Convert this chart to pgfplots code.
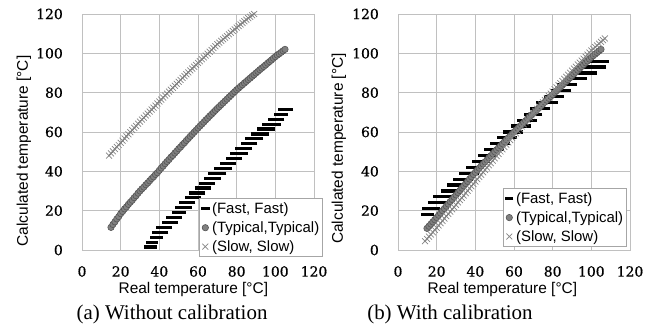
\documentclass[border=0pt]{standalone}
\usepackage{pgfplots}
\usepackage{pgfplotstable}
\pgfplotsset{compat=1.18}
\usepackage{fontspec}
\setmainfont{Liberation Serif}
\newfontfamily\arialf{Liberation Sans}
\newfontfamily\tickf[FakeBold=0.6]{DejaVu Serif}
\definecolor{gridc}{HTML}{C0C0C0}
\definecolor{typfill}{HTML}{808080}
\definecolor{typedge}{HTML}{555555}
\definecolor{slowc}{HTML}{858585}

\pgfplotstableread{
x y
14 48.0
15 49.1
16 50.2
17 51.3
18 52.4
19 53.4
20 54.5
21 55.6
22 56.7
23 57.8
24 58.8
25 59.9
26 61.0
27 62.1
28 63.1
29 64.2
30 65.3
31 66.3
32 67.3
33 68.4
34 69.4
35 70.4
36 71.4
37 72.4
38 73.4
39 74.5
40 75.5
41 76.5
42 77.5
43 78.5
44 79.5
45 80.5
46 81.5
47 82.5
48 83.5
49 84.5
50 85.5
51 86.5
52 87.5
53 88.4
54 89.4
55 90.3
56 91.3
57 92.2
58 93.2
59 94.1
60 95.1
61 96.0
62 97.0
63 97.9
64 98.9
65 99.8
66 100.8
67 101.7
68 102.7
69 103.6
70 104.6
71 105.4
72 106.3
73 107.1
74 108.0
75 108.8
76 109.7
77 110.5
78 111.4
79 112.2
80 113.1
81 113.9
82 114.7
83 115.5
84 116.3
85 117.1
86 117.9
87 118.6
88 119.3
89 120.0
}\slowA

\pgfplotstableread{
x y
14 4.5
15 5.6
16 6.8
17 7.9
18 9.0
19 10.2
20 11.3
21 12.5
22 13.6
23 14.8
24 16.0
25 17.2
26 18.3
27 19.5
28 20.7
29 21.8
30 23.0
31 24.2
32 25.4
33 26.5
34 27.7
35 28.9
36 30.1
37 31.3
38 32.4
39 33.6
40 34.8
41 36.0
42 37.2
43 38.3
44 39.5
45 40.7
46 41.9
47 43.1
48 44.2
49 45.4
50 46.6
51 47.8
52 48.9
53 50.1
54 51.2
55 52.4
56 53.6
57 54.7
58 55.9
59 57.0
60 58.2
61 59.3
62 60.5
63 61.6
64 62.8
65 63.9
66 65.0
67 66.2
68 67.3
69 68.5
70 69.6
71 70.7
72 71.8
73 72.9
74 74.0
75 75.1
76 76.2
77 77.3
78 78.4
79 79.5
80 80.6
81 81.7
82 82.7
83 83.8
84 84.8
85 85.9
86 87.0
87 88.0
88 89.1
89 90.1
90 91.2
91 92.2
92 93.2
93 94.3
94 95.3
95 96.3
96 97.3
97 98.3
98 99.4
99 100.4
100 101.4
101 102.3
102 103.2
103 104.0
104 104.9
105 105.8
106 106.7
107 107.6
}\slowB

\pgfplotsset{
  tempax/.style={
    width=232bp, height=236bp, scale only axis,
    xmin=0, xmax=120, ymin=0, ymax=120,
    xtick={0,20,...,120}, ytick={0,20,...,120},
    grid=major, major grid style={gridc, line width=0.8bp},
    axis line style={gridc, line width=0.8bp},
    major tick length=0pt,
    clip=false,
    /pgf/number format/assume math mode=true,
    tick label style={font=\tickf\fontsize{14}{15}\selectfont, black},
    yticklabel style={inner sep=0pt, xshift=-19bp},
    xticklabel style={inner sep=0pt, yshift=-16bp},
    label style={font=\arialf\fontsize{15.5}{17}\selectfont},
    xlabel={Real temperature [°C]},
    ylabel={Calculated temperature [°C]},
    title style={font=\fontsize{21}{23}\selectfont, anchor=center},
    legend style={draw=gray!70, fill=white, font=\arialf\fontsize{15}{17}\selectfont,
      inner xsep=1.5bp, inner ysep=2bp, row sep=2.6bp, cells={anchor=west}, line width=0.6bp},
    legend cell align=left,
    legend image code/.code={\path (0bp,0bp) (9bp,0bp); \draw[#1, only marks] plot coordinates {(4.5bp,0bp)};},
  },
  fastst/.style={only marks, mark=-, mark size=4.2bp, black, mark options={line width=3.2bp}},
  typst/.style={only marks, mark=*, mark size=3.2bp, mark options={fill=typfill, draw=typedge, line width=0.6bp}},
  slowst/.style={only marks, mark=x, mark size=4.2bp, slowc, mark options={line width=0.7bp}},
  slowline/.style={forget plot, no marks, draw=black!85, line width=1bp},
}

\begin{document}
\begin{tikzpicture}[x=1bp,y=1bp]
% ---------- (a) ----------
\begin{axis}[tempax, at={(82bp,74bp)}, anchor=south west,
  xlabel style={at={(axis description cs:0.48,-0.168)}, anchor=center},
  ylabel style={at={(axis description cs:-0.25,0.42)}, anchor=center},
  title={(a) Without calibration}, title style={at={(axis description cs:0.388,-0.3)}},
  legend style={at={(axis description cs:1.039,-0.03)}, anchor=south east}]
\addplot[fastst] coordinates {
(34,1.5)(34.5,1.5)(35,1.5)(35.5,4)(36,1.5)(36.5,1.5)(37,4)(37.5,6.5)(38,6.5)(38.5,9)(39,6.5)(39.5,6.5)(40,9)(40.5,11.5)(41,9)(41.5,11.5)(42,11.5)(42.5,9)(43,11.5)(43.5,14)(44,14)(44.5,11.5)(45,14)(45.5,16.5)(46,14)(46.5,14)(47,16.5)(47.5,14)(48,16.5)(48.5,19)(49,19)(49.5,16.5)(50,19)(50.5,21.5)(51,19)(51.5,19)(52,21.5)(52.5,24)(53,21.5)(53.5,24)(54,24)(54.5,21.5)(55,24)(55.5,26.5)(56,26.5)(56.5,24)(57,26.5)(57.5,29)(58,26.5)(58.5,29)(59,29)(59.5,26.5)(60,29)(60.5,31.5)(61,29)(61.5,29)(62,31.5)(62.5,34)(63,31.5)(63.5,34)(64,34)(64.5,31.5)(65,34)(65.5,36.5)(66,36.5)(66.5,34)(67,36.5)(67.5,39)(68,36.5)(68.5,39)(69,39)(69.5,36.5)(70,39)(70.5,41.5)(71,39)(71.5,39)(72,41.5)(72.5,39)(73,41.5)(73.5,44)(74,41.5)(74.5,41.5)(75,44)(75.5,41.5)(76,44)(76.5,46.5)(77,44)(77.5,44)(78,46.5)(78.5,49)(79,46.5)(79.5,49)(80,49)(80.5,46.5)(81,49)(81.5,51.5)(82,49)(82.5,49)(83,51.5)(83.5,49)(84,51.5)(84.5,54)(85,51.5)(85.5,51.5)(86,54)(86.5,56.5)(87,54)(87.5,56.5)(88,56.5)(88.5,54)(89,56.5)(89.5,59)(90,56.5)(90.5,56.5)(91,59)(91.5,56.5)(92,59)(92.5,61.5)(93,59)(93.5,59)(94,61.5)(94.5,59)(95,61.5)(95.5,64)(96,61.5)(96.5,61.5)(97,64)(97.5,61.5)(98,64)(98.5,66.5)(99,64)(99.5,64)(100,66.5)(100.5,64)(101,66.5)(101.5,69)(102,69)(102.5,66.5)(103,69)(103.5,71.5)(104,69)(104.5,69)(105,71.5)(105.5,71.5)(106,71.5)(106.5,71.5)(107,71.5)
};
\addlegendentry{(Fast, Fast)}
\addplot[typst] coordinates {
(15,11.5)(16,13.0)(17,14.3)(18,15.8)(19,17.0)(20,18.5)(21,19.6)(22,20.9)(23,21.9)(24,23.2)(25,24.3)(26,25.3)(27,26.6)(28,27.6)(29,28.9)(30,30.0)(31,31.1)(32,32.0)(33,33.2)(34,34.1)(35,35.2)(36,36.3)(37,37.2)(38,38.4)(39,39.3)(40,40.5)(41,41.7)(42,42.7)(43,43.9)(44,45.0)(45,46.0)(46,47.2)(47,48.1)(48,49.3)(49,50.3)(50,51.5)(51,52.4)(52,53.6)(53,54.5)(54,55.7)(55,56.7)(56,57.8)(57,58.8)(58,59.9)(59,60.9)(60,62.0)(61,63.0)(62,64.0)(63,65.0)(64,66.1)(65,67.0)(66,68.1)(67,69.0)(68,70.0)(69,71.0)(70,72.0)(71,72.9)(72,73.9)(73,74.8)(74,75.8)(75,76.7)(76,77.7)(77,78.6)(78,79.6)(79,80.5)(80,81.5)(81,82.3)(82,83.2)(83,84.0)(84,84.9)(85,85.7)(86,86.6)(87,87.4)(88,88.3)(89,89.1)(90,90.0)(91,90.8)(92,91.7)(93,92.5)(94,93.3)(95,94.1)(96,95.0)(97,95.8)(98,96.6)(99,97.5)(100,98.3)(101,99.1)(102,99.8)(103,100.5)(104,101.3)(105,102.0)
};
\addlegendentry{(Typical,Typical)}
\addplot[slowst] table {\slowA};
\addlegendentry{(Slow, Slow)}
\addplot[slowline] table {\slowA};
\end{axis}
% ---------- (b) ----------
\begin{axis}[tempax, at={(398bp,74bp)}, anchor=south west,
  xlabel style={at={(axis description cs:0.45,-0.168)}, anchor=center},
  ylabel style={at={(axis description cs:-0.255,0.43)}, anchor=center},
  title={(b) With calibration}, title style={at={(axis description cs:0.224,-0.3)}},
  legend style={at={(axis description cs:0.987,0.013)}, anchor=south east}]
\addplot[fastst] coordinates {
(14,18)(14.5,21)(15,18)(15.5,21)(16,21)(16.5,18)(17,21)(17.5,24)(18,21)(18.5,24)(19,24)(19.5,21)(20,24)(20.5,27)(21,24)(21.5,27)(22,24)(22.5,24)(23,27)(23.5,24)(24,27)(24.5,30)(25,27)(25.5,27)(26,30)(26.5,27)(27,30)(27.5,33)(28,30)(28.5,30)(29,33)(29.5,30)(30,33)(30.5,36)(31,33)(31.5,36)(32,36)(32.5,33)(33,36)(33.5,39)(34,36)(34.5,39)(35,36)(35.5,36)(36,39)(36.5,36)(37,39)(37.5,42)(38,39)(38.5,39)(39,42)(39.5,39)(40,42)(40.5,45)(41,42)(41.5,45)(42,45)(42.5,42)(43,45)(43.5,48)(44,45)(44.5,48)(45,48)(45.5,45)(46,48)(46.5,51)(47,48)(47.5,51)(48,51)(48.5,48)(49,51)(49.5,54)(50,51)(50.5,54)(51,51)(51.5,51)(52,54)(52.5,51)(53,54)(53.5,57)(54,54)(54.5,57)(55,57)(55.5,54)(56,57)(56.5,60)(57,57)(57.5,60)(58,57)(58.5,57)(59,60)(59.5,57)(60,60)(60.5,63)(61,60)(61.5,63)(62,63)(62.5,60)(63,63)(63.5,66)(64,63)(64.5,66)(65,66)(65.5,63)(66,66)(66.5,63)(67,66)(67.5,69)(68,66)(68.5,66)(69,69)(69.5,66)(70,69)(70.5,72)(71,69)(71.5,72)(72,72)(72.5,69)(73,72)(73.5,75)(74,72)(74.5,75)(75,72)(75.5,72)(76,75)(76.5,72)(77,75)(77.5,78)(78,75)(78.5,78)(79,78)(79.5,75)(80,78)(80.5,75)(81,78)(81.5,81)(82,78)(82.5,78)(83,81)(83.5,78)(84,81)(84.5,84)(85,81)(85.5,84)(86,84)(86.5,81)(87,84)(87.5,81)(88,84)(88.5,87)(89,84)(89.5,84)(90,87)(90.5,84)(91,87)(91.5,90)(92,87)(92.5,90)(93,87)(93.5,90)(94,90)(94.5,87)(95,90)(95.5,87)(96,90)(96.5,93)(97,90)(97.5,93)(98,90)(98.5,90)(99,93)(99.5,90)(100,93)(100.5,90)(101,93)(101.5,96)(102,93)(102.5,96)(103,93)(103.5,96)(104,96)(104.5,93)(105,96)(105.5,93)(106,96)(106.5,96)(107,96)
};
\addlegendentry{(Fast, Fast)}
\addplot[typst] coordinates {
(15,11.0)(16,12.1)(17,13.2)(18,14.3)(19,15.4)(20,16.5)(21,17.7)(22,18.8)(23,20.0)(24,21.1)(25,22.3)(26,23.4)(27,24.6)(28,25.7)(29,26.9)(30,28.0)(31,29.2)(32,30.3)(33,31.5)(34,32.6)(35,33.8)(36,34.9)(37,36.1)(38,37.2)(39,38.4)(40,39.5)(41,40.6)(42,41.6)(43,42.7)(44,43.7)(45,44.8)(46,45.8)(47,46.9)(48,47.9)(49,49.0)(50,50.0)(51,51.0)(52,52.0)(53,53.0)(54,54.0)(55,55.0)(56,56.0)(57,57.0)(58,58.0)(59,59.0)(60,60.0)(61,61.0)(62,61.9)(63,62.9)(64,63.8)(65,64.8)(66,65.7)(67,66.7)(68,67.6)(69,68.6)(70,69.5)(71,70.5)(72,71.4)(73,72.4)(74,73.3)(75,74.3)(76,75.2)(77,76.2)(78,77.1)(79,78.1)(80,79.0)(81,80.0)(82,80.9)(83,81.9)(84,82.8)(85,83.8)(86,84.7)(87,85.7)(88,86.6)(89,87.6)(90,88.5)(91,89.5)(92,90.4)(93,91.4)(94,92.3)(95,93.3)(96,94.2)(97,95.2)(98,96.1)(99,97.1)(100,98.0)(101,98.8)(102,99.6)(103,100.4)(104,101.2)(105,102.0)
};
\addlegendentry{(Typical,Typical)}
\addplot[slowst] table {\slowB};
\addlegendentry{(Slow, Slow)}
\addplot[slowline, draw=black!70, line width=0.8bp] table {\slowB};
\end{axis}
\pgfresetboundingbox
\path (0bp,0bp) rectangle (656bp,324bp);
\end{tikzpicture}
\end{document}
